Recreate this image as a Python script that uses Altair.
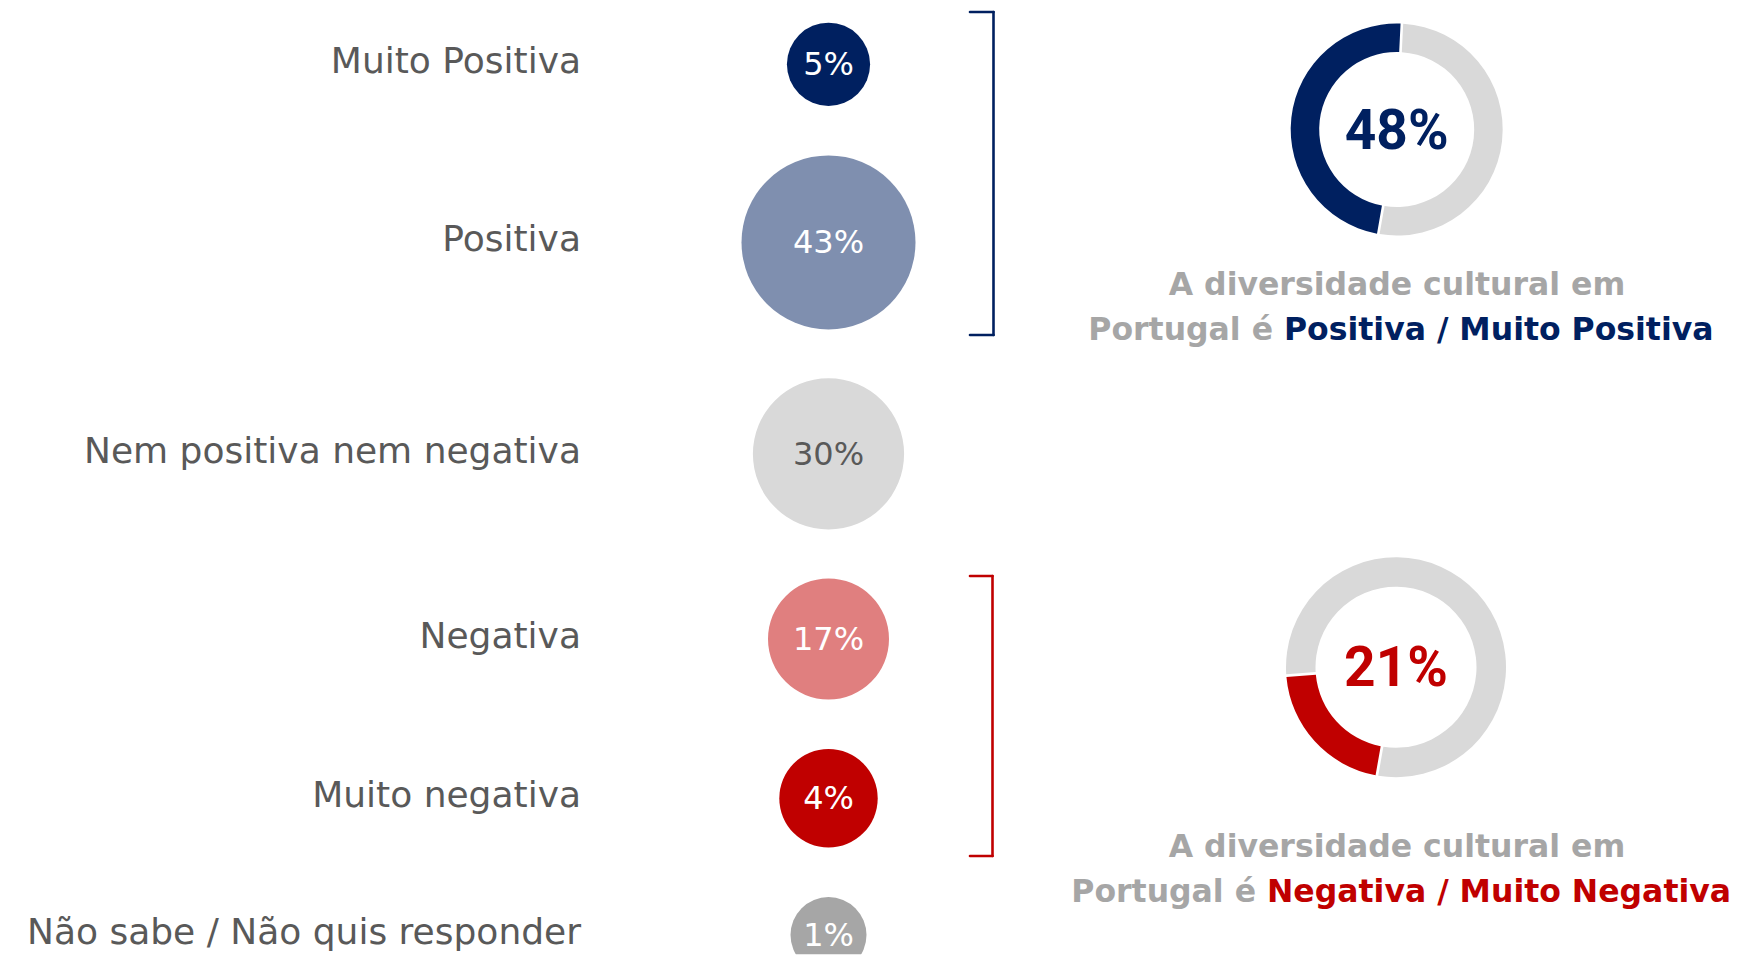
import math
import altair as alt
import pandas as pd

# ---------------- data ----------------
categories = [
    "Muito Positiva",
    "Positiva",
    "Nem positiva nem negativa",
    "Negativa",
    "Muito negativa",
    "Não sabe / Não quis responder",
]
values = [5, 43, 30, 17, 4, 1]

donut_parts_top = ["Positiva / Muito Positiva", "Restante"]
donut_values_top = [48, 52]
donut_parts_bottom = ["Negativa / Muito Negativa", "Restante"]
donut_values_bottom = [21, 79]
totals = [48, 21]

caption_line1 = "A diversidade cultural em"
caption_lead = "Portugal é"
caption_top_hl = "Positiva / Muito Positiva"
caption_bottom_hl = "Negativa / Muito Negativa"

# ---------------- styles ----------------
circle_colors = ["#002060", "#7F8FAF", "#D9D9D9", "#E07F7F", "#C00000", "#A6A6A6"]
text_colors = ["#FFFFFF", "#FFFFFF", "#595959", "#FFFFFF", "#FFFFFF", "#FFFFFF"]
circle_radii = [41.6, 87, 75.6, 60.5, 49.2, 38]
row_heights = [112.6, 242.8, 179.8, 190, 128.6, 91.2]
row_align = [0.5, 0.5, 0.5, 0.5, 0.5, 0.79]
NAVY = "#002060"
RED = "#C00000"
GREY_TXT = "#595959"
GREY_CAP = "#A6A6A6"
RING_GREY = "#D9D9D9"

ROW_W = 900
CIRCLE_X = 820.5
LABEL_X = 573
RX = 900  # left edge of the right-hand block, in chart pixels

df = pd.DataFrame({
    "category": categories,
    "value": values,
    "label": [f"{v}%" for v in values],
})

# ---------------- right-hand block (brackets, donuts, captions) ----------------
one = pd.DataFrame({"k": [0]})


def bracket(x0, x1, y0, y1, color):
    common = dict(color=color, strokeWidth=2.6, strokeCap="round")
    top = alt.Chart(one).mark_rule(**common).encode(
        x=alt.value(x0), x2=alt.value(x1), y=alt.value(y0))
    vert = alt.Chart(one).mark_rule(**common).encode(
        x=alt.value(x1), y=alt.value(y0), y2=alt.value(y1))
    bot = alt.Chart(one).mark_rule(**common).encode(
        x=alt.value(x0), x2=alt.value(x1), y=alt.value(y1))
    return [top, vert, bot]


start = math.radians(190)
theta_scale = alt.Scale(range=[start, start + 2 * math.pi])
part_scale = alt.Scale(
    domain=[donut_parts_top[0], donut_parts_bottom[0], "Restante"],
    range=[NAVY, RED, RING_GREY],
)


def donut(parts, vals, cx, cy, r_out, r_in):
    d = pd.DataFrame({"part": parts, "value": vals, "ord": list(range(len(parts)))})
    return alt.Chart(d).mark_arc(
        outerRadius=r_out, innerRadius=r_in, padAngle=0.02
    ).encode(
        theta=alt.Theta("value:Q", stack=True, scale=theta_scale),
        fill=alt.Fill("part:N", scale=part_scale, legend=None),
        order=alt.Order("ord:Q"),
        x=alt.value(cx), y=alt.value(cy),
    )


def big_number(v, cx, cy, color):
    d = pd.DataFrame({"t": [f"{v}%"]})
    return alt.Chart(d).mark_text(
        font="Roboto", fontWeight="bold", fontSize=55, color=color,
        align="center", baseline="middle", dy=2,
    ).encode(text="t:N", x=alt.value(cx), y=alt.value(cy))


def caption(hl, hl_color, y1, split_x):
    d1 = pd.DataFrame({"t": [caption_line1]})
    d2 = pd.DataFrame({"t": [caption_lead]})
    d3 = pd.DataFrame({"t": [hl]})
    common = dict(font="DejaVu Sans", fontWeight="bold", fontSize=31.5, baseline="alphabetic")
    l1 = alt.Chart(d1).mark_text(align="center", color=GREY_CAP, **common).encode(
        text="t:N", x=alt.value(RX + 489), y=alt.value(y1))
    l2a = alt.Chart(d2).mark_text(align="right", color=GREY_CAP, **common).encode(
        text="t:N", x=alt.value(RX + split_x), y=alt.value(y1 + 45))
    l2b = alt.Chart(d3).mark_text(align="left", color=hl_color, **common).encode(
        text="t:N", x=alt.value(RX + split_x + 11), y=alt.value(y1 + 45))
    return [l1, l2a, l2b]


right_layers = []
right_layers += bracket(RX + 62, RX + 85.5, 4, 327, NAVY)
right_layers += bracket(RX + 62, RX + 84.5, 568, 848, RED)
right_layers.append(donut(donut_parts_top, donut_values_top, RX + 488.7, 121.5, 106, 77.5))
right_layers.append(donut(donut_parts_bottom, donut_values_bottom, RX + 488, 659.2, 110, 80.5))
right_layers.append(big_number(totals[0], RX + 488.7, 121.5, NAVY))
right_layers.append(big_number(totals[1], RX + 488, 659.2, RED))
right_layers += caption(caption_top_hl, NAVY, 287, 365)
right_layers += caption(caption_bottom_hl, RED, 848.7, 348)

# ---------------- rows of bubbles ----------------
rows = []
for i, cat in enumerate(categories):
    base = alt.Chart(df).transform_filter(alt.datum.category == cat)
    y = alt.Y("category:N", axis=None,
              scale=alt.Scale(type="point", align=row_align[i]))
    circ = base.mark_circle(
        opacity=1, color=circle_colors[i],
        size=(2 * circle_radii[i]) ** 2, clip=(i == len(categories) - 1),
    ).encode(x=alt.value(CIRCLE_X), y=y)
    lab = base.mark_text(
        align="right", baseline="middle", font="DejaVu Sans", fontSize=36,
        color=GREY_TXT, dy=-2,
    ).encode(x=alt.value(LABEL_X), y=y, text="category:N")
    val = base.mark_text(
        align="center", baseline="middle", font="DejaVu Sans", fontSize=32, dy=1,
        color=text_colors[i],
    ).encode(x=alt.value(CIRCLE_X), y=y, text="label:N")
    layers = [circ, lab, val]
    if i == 0:
        layers += right_layers
    rows.append(alt.layer(*layers).properties(width=ROW_W, height=row_heights[i]))

chart = alt.vconcat(*rows, spacing=0, bounds="flush").properties(
    padding=0
).configure_view(strokeWidth=0)

chart.save("out.html", embed_options={"renderer": "svg", "actions": False})
